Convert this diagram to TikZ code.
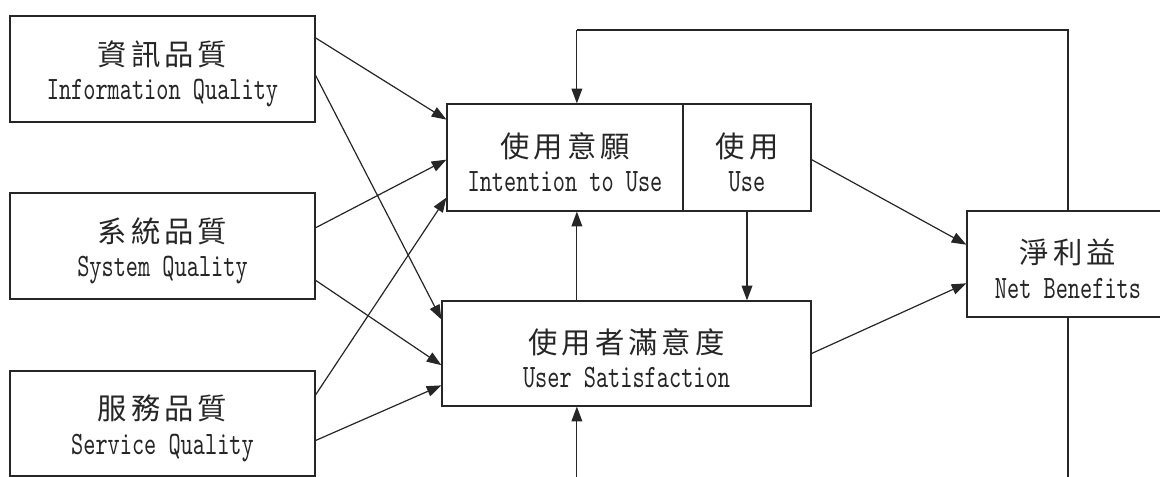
\documentclass[tikz,border=0pt]{standalone}
\usepackage{fontspec}
\usetikzlibrary{arrows.meta,calc}
\newfontfamily\cjk[LetterSpace=14]{Noto Sans CJK TC}
\newfontfamily\lat{lmmono10-regular.otf}[FakeStretch=0.71]
% first line: Chinese title, with a strut that lowers the text block a little
\newcommand\zh[1]{{\cjk\rule{0pt}{26pt}#1}}
\newcommand\en[1]{{\lat\fontsize{24.5pt}{26pt}\selectfont #1}}
\begin{document}
\begin{tikzpicture}[x=0.75pt,y=-0.75pt,
  line width=0.9pt,
  ink/.style={draw=black!85},
  boxed/.style={ink,rectangle,inner sep=0pt,align=center,text=black!85,
    font=\fontsize{22pt}{26pt}\selectfont},
  conn/.style={ink,-{Triangle[length=11pt,width=8pt]}},
  wire/.style={ink}]
\useasboundingbox (0,0) rectangle (1160,477);
\clip (0,0) rectangle (1160,477);
\fill[white] (0,0) rectangle (1160,477);

% quality dimensions on the left
\node[boxed,minimum width=305*0.75pt,minimum height=106*0.75pt] (iq) at (162.5,69)
  {\zh{資訊品質}\\\en{Information Quality}};
\node[boxed,minimum width=305*0.75pt,minimum height=106*0.75pt] (sq) at (162.5,246)
  {\zh{系統品質}\\\en{System Quality}};
\node[boxed,minimum width=305*0.75pt,minimum height=105*0.75pt] (svq) at (162.5,423.5)
  {\zh{服務品質}\\\en{Service Quality}};

% use and satisfaction in the middle
\node[boxed,minimum width=236*0.75pt,minimum height=107*0.75pt] (int) at (565,157.5)
  {\zh{使用意願}\\\en{Intention to Use}};
\node[boxed,minimum width=128*0.75pt,minimum height=107*0.75pt] (use) at (747,157.5)
  {\zh{使用}\\\en{Use}};
\node[boxed,minimum width=369*0.75pt,minimum height=105*0.75pt] (us) at (626.5,353.5)
  {\zh{使用者滿意度}\\\en{User Satisfaction}};

% outcome on the right
\node[boxed,minimum width=202*0.75pt,minimum height=106*0.75pt] (nb) at (1068,264)
  {\zh{淨利益}\\\en{Net Benefits}};

% quality -> intention / satisfaction
\draw[conn] ($(iq.north east)!.21!(iq.south east)$) -- ($(int.north west)!.15!(int.south west)$);
\draw[conn] ($(iq.north east)!.56!(iq.south east)$) -- ($(us.north west)!.18!(us.south west)$);
\draw[conn] ($(sq.north east)!.33!(sq.south east)$) -- ($(int.north west)!.52!(int.south west)$);
\draw[conn] ($(sq.north east)!.82!(sq.south east)$) -- ($(us.north west)!.61!(us.south west)$);
\draw[conn] ($(svq.north east)!.23!(svq.south east)$) -- ($(int.north west)!.87!(int.south west)$);
\draw[conn] ($(svq.north east)!.66!(svq.south east)$) -- ($(us.north west)!.80!(us.south west)$);

% between use and satisfaction
\coordinate (intfoot) at ($(int.south west)!.55!(int.south east)$);
\draw[conn] (intfoot |- us.north) -- (intfoot);
\draw[conn] (use.south) -- (use.south |- us.north);

% towards net benefits
\draw[conn] ($(use.north east)!.52!(use.south east)$) -- ($(nb.north west)!.32!(nb.south west)$);
\draw[conn] (us.east) -- ($(nb.north west)!.68!(nb.south west)$);

% feedback loops
\coordinate (loop) at (0,30);
\coordinate (floor) at (0,482);
\coordinate (inthead) at ($(int.north west)!.55!(int.north east)$);
\draw[wire] (nb.north) -- (nb.north |- loop) -- (inthead |- loop);
\draw[conn] (inthead |- loop) -- (inthead);
\draw[wire] (nb.south) -- (nb.south |- floor);
\draw[conn] (intfoot |- floor) -- (intfoot |- us.south);
\end{tikzpicture}
\end{document}
